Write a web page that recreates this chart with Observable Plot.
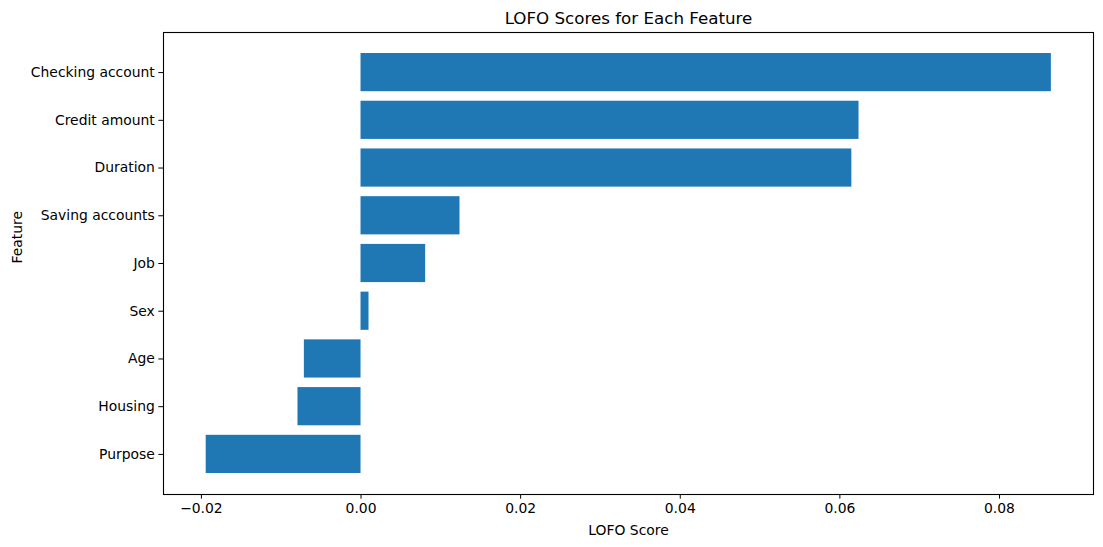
<!DOCTYPE html>
<html>
<head>
<meta charset="utf-8">
<script src="https://cdn.jsdelivr.net/npm/d3@7"></script>
<script src="https://cdn.jsdelivr.net/npm/@observablehq/plot@0.6"></script>
<style>
  html, body { margin: 0; padding: 0; background: #fff; }
  svg { display: block; }
</style>
</head>
<body>
<div id="chart"></div>
<script>
const features = ["Checking account", "Credit amount", "Duration", "Saving accounts", "Job", "Sex", "Age", "Housing", "Purpose"];
const scores = [0.0865, 0.0624, 0.0615, 0.0124, 0.0081, 0.0010, -0.0071, -0.0079, -0.0194];
const xTicks = [-0.02, 0.00, 0.02, 0.04, 0.06, 0.08];
const titleText = "LOFO Scores for Each Feature";
const xLabel = "LOFO Score";
const yLabel = "Feature";

const data = features.map((f, i) => ({feature: f, score: scores[i]}));
const fmt = d3.format(".2f");
const font = "DejaVu Sans, sans-serif";

const chart = Plot.plot({
  width: 1103,
  height: 547,
  marginTop: 32,
  marginBottom: 53,
  marginLeft: 163,
  marginRight: 10,
  style: {fontFamily: font, fontSize: "13.9px", color: "black", background: "white"},
  x: {domain: [-0.02475, 0.09178]},
  y: {domain: features, paddingInner: 0.2, paddingOuter: 0.44, round: false},
  marks: [
    Plot.barX(data, {x1: 0, x2: "score", y: "feature", fill: "#1f77b4"}),
    Plot.frame({stroke: "black", strokeWidth: 1.1}),
    Plot.axisX({ticks: xTicks, tickFormat: fmt, tickSize: 4.7, tickPadding: 4, fontSize: 13.9, label: null, stroke: "black"}),
    Plot.axisY({tickSize: 4.7, tickPadding: 4, fontSize: 13.9, label: null, stroke: "black"}),
    Plot.text([titleText], {frameAnchor: "top", dy: -20, fontSize: 16.7, fill: "black"}),
    Plot.text([xLabel], {frameAnchor: "bottom", dy: 40, fontSize: 13.9, fill: "black"}),
    Plot.text([yLabel], {frameAnchor: "left", dx: -146, rotate: -90, fontSize: 13.9, fill: "black"})
  ]
});
document.getElementById("chart").appendChild(chart);
</script>
</body>
</html>
